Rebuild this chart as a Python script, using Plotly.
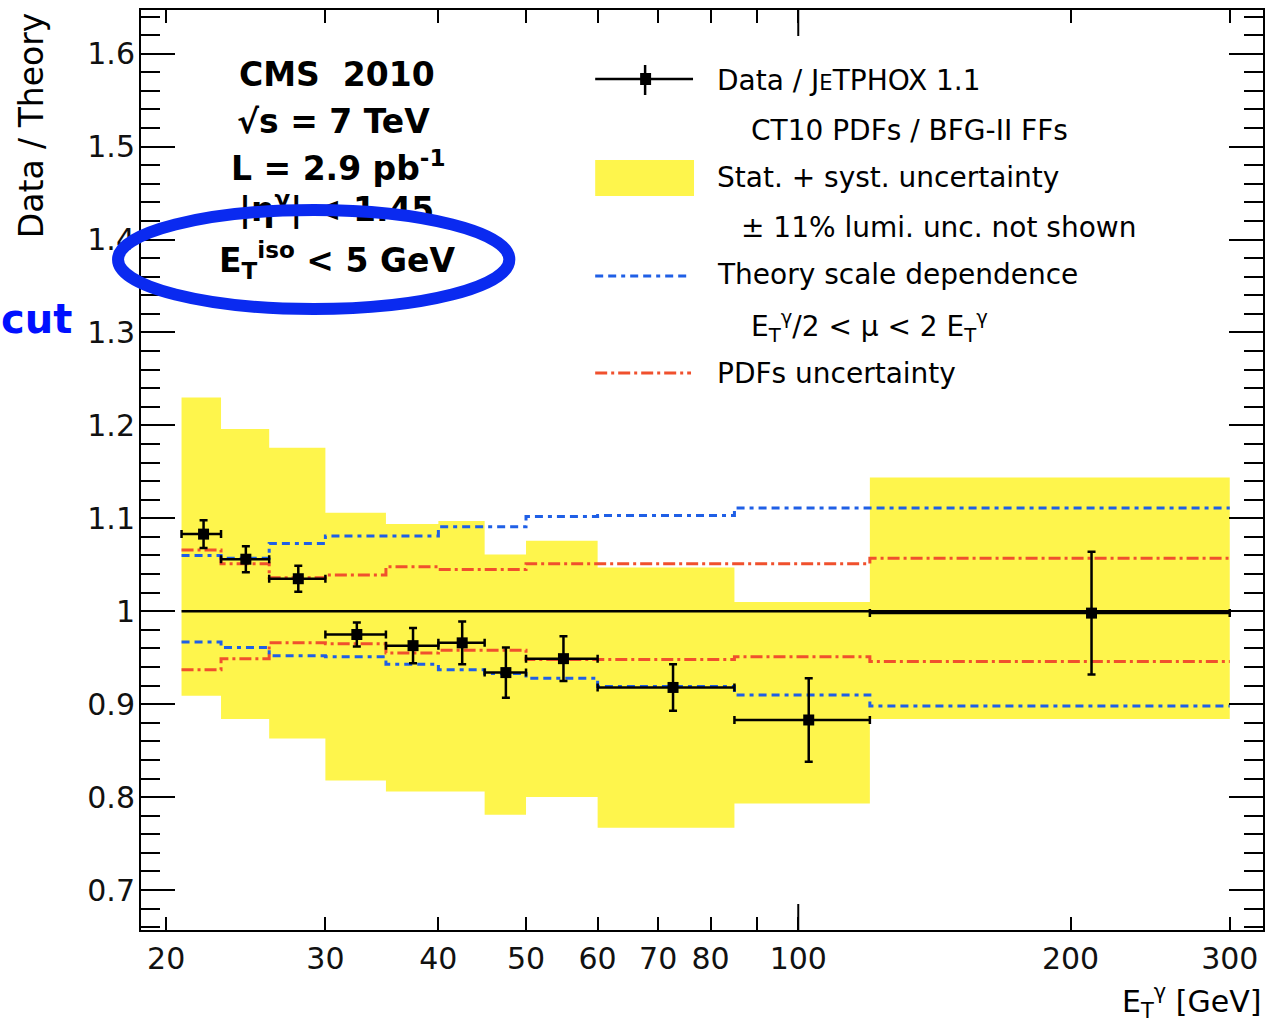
import math
import plotly.graph_objects as go

# ---------------- data ----------------
bin_edges = [20.8, 23, 26, 30, 35, 40, 45, 50, 60, 85, 120, 300]
et_points = [22.0, 24.5, 28.0, 32.5, 37.5, 42.5, 47.5, 55.0, 72.7, 102.7, 211.0]
ratio = [1.083, 1.056, 1.035, 0.975, 0.963, 0.966, 0.934, 0.949, 0.918, 0.883, 0.998]
ratio_err = [0.015, 0.014, 0.014, 0.013, 0.019, 0.023, 0.027, 0.024, 0.025, 0.045, 0.066]

band_hi = [1.230, 1.196, 1.176, 1.106, 1.094, 1.097, 1.061, 1.076, 1.047, 1.010, 1.144]
band_lo = [0.909, 0.884, 0.863, 0.818, 0.806, 0.806, 0.781, 0.800, 0.767, 0.793, 0.884]

scale_hi = [1.060, 1.057, 1.073, 1.081, 1.081, 1.091, 1.091, 1.102, 1.103, 1.111, 1.111]
scale_lo = [0.967, 0.961, 0.952, 0.951, 0.943, 0.937, 0.933, 0.928, 0.919, 0.910, 0.898]

pdf_hi = [1.066, 1.051, 1.036, 1.039, 1.048, 1.045, 1.045, 1.051, 1.051, 1.051, 1.057]
pdf_lo = [0.937, 0.949, 0.966, 0.965, 0.955, 0.958, 0.958, 0.948, 0.948, 0.951, 0.946]

x_tickvals = [20, 30, 40, 50, 60, 70, 80, 90, 100, 200, 300]
x_ticktext = ["20", "30", "40", "50", "60", "70", "80", "", "100", "200", "300"]
y_tickvals = [0.7, 0.8, 0.9, 1.0, 1.1, 1.2, 1.3, 1.4, 1.5, 1.6]
y_ticktext = ["0.7", "0.8", "0.9", "1", "1.1", "1.2", "1.3", "1.4", "1.5", "1.6"]
x_range = [18.76, 326.5]
y_range = [0.657, 1.647]
unity = 1.0
decade_tick = 100

# ---------------- styling ----------------
W, H = 1270, 1030
L, R, T, B = 141, 5, 10, 100
PW, PH = W - L - R, H - T - B
FONT = "DejaVu Sans"
YELLOW = "#fef54c"
BLUE = "#1f5fe6"
RED = "#f0502d"
ELL = "#0a2af0"


def px(x, y):
    return (x - L) / PW, (H - B - y) / PH


fig = go.Figure()

# yellow uncertainty band (step polygon)
bx, by = [], []
for i in range(len(band_hi)):
    bx += [bin_edges[i], bin_edges[i + 1]]
    by += [band_hi[i], band_hi[i]]
for i in reversed(range(len(band_lo))):
    bx += [bin_edges[i + 1], bin_edges[i]]
    by += [band_lo[i], band_lo[i]]
fig.add_trace(go.Scatter(x=bx, y=by, fill="toself", fillcolor=YELLOW,
                         line=dict(width=0), mode="lines", hoverinfo="skip",
                         showlegend=False))


def step(vals, color, dash):
    fig.add_trace(go.Scatter(x=bin_edges, y=list(vals) + [vals[-1]], mode="lines",
                             line=dict(shape="hv", color=color, width=3, dash=dash),
                             showlegend=False))


step(pdf_hi, RED, "12px,4px,3px,4px")
step(pdf_lo, RED, "12px,4px,3px,4px")
step(scale_hi, BLUE, "8px,5px,8px,5px,4px,5px")
step(scale_lo, BLUE, "8px,5px,8px,5px,4px,5px")

# unity line
fig.add_trace(go.Scatter(x=[bin_edges[0], bin_edges[-1]], y=[unity, unity], mode="lines",
                         line=dict(color="black", width=2.5), showlegend=False))

# data points
ex_plus = [bin_edges[i + 1] - et_points[i] for i in range(len(et_points))]
ex_minus = [et_points[i] - bin_edges[i] for i in range(len(et_points))]
fig.add_trace(go.Scatter(
    x=et_points, y=ratio, mode="markers",
    marker=dict(symbol="square", size=11, color="black"),
    error_y=dict(type="data", array=ratio_err, color="black", thickness=2.5, width=4),
    error_x=dict(type="data", array=ex_plus, arrayminus=ex_minus, color="black",
                 thickness=2.5, width=4),
    showlegend=False))

# eta text as a trace so that the ellipse can overlay it
ex_, ey_ = px(337, 213)
fig.add_trace(go.Scatter(x=[ex_], y=[ey_], mode="text", xaxis="x2", yaxis="y2",
                         text=["<b>|η<sup>γ</sup>| &lt; 1.45</b>"],
                         textfont=dict(family=FONT, size=33, color="black"),
                         textposition="middle center", showlegend=False, hoverinfo="skip"))

annotations = []


def ann(text, x, y, size=28, xanchor="left", bold=False, color="black", **kw):
    xp, yp = px(x, y)
    annotations.append(dict(text=text, x=xp, y=yp, xref="paper", yref="paper",
                            xanchor=xanchor, yanchor="middle", showarrow=False,
                            font=dict(family=FONT, size=size, color=color), **kw))


# left info block
ann("<b>CMS\u00a0 2010</b>", 337, 74, size=33, xanchor="center")
ann("<b>√s = 7 TeV</b>", 334, 122, size=33, xanchor="center")
ann("<b>L = 2.9 pb<sup>-1</sup></b>", 339, 167, size=33, xanchor="center")
ann("<b>E<sub>T</sub><sup>iso</sup> &lt; 5 GeV</b>", 337, 260, size=33, xanchor="center")
ann("<b>cut</b>", 74, 319, size=40, xanchor="right", color="#0010ff")

# legend texts
ann("Data / J<span style='font-size:21px'>E</span>TPHOX 1.1", 716, 80)
ann("CT10 PDFs / BFG-II FFs", 750, 130)
ann("Stat. + syst. uncertainty", 716, 178)
ann("± 11% lumi. unc. not shown", 740, 228)
ann("Theory scale dependence", 716, 275)
ann("E<sub>T</sub><sup>γ</sup>/2 &lt; μ &lt; 2 E<sub>T</sub><sup>γ</sup>", 750, 326)
ann("PDFs uncertainty", 716, 373)

# axis titles
ann("E<sub>T</sub><sup>γ</sup> [GeV]", 1265, 1001, size=30, xanchor="right")
yt_x, yt_y = px(31, 10)
annotations.append(dict(text="Data / Theory", x=yt_x, y=yt_y, xref="paper", yref="paper",
                        xanchor="center", yanchor="top", textangle=-90, showarrow=False,
                        font=dict(family=FONT, size=33, color="black")))

shapes = []


def pline(x0, y0, x1, y1, color="black", width=2.5, dash=None):
    a, b = px(x0, y0)
    c, d = px(x1, y1)
    ln = dict(color=color, width=width)
    if dash:
        ln["dash"] = dash
    shapes.append(dict(type="line", xref="paper", yref="paper", x0=a, y0=b, x1=c, y1=d,
                       line=ln, layer="above"))


# legend symbols
pline(596, 79, 694, 79)
pline(646, 65, 646, 95)
a, b = px(641, 73)
c, d = px(652, 85)
shapes.append(dict(type="rect", xref="paper", yref="paper", x0=a, y0=b, x1=c, y1=d,
                   fillcolor="black", line=dict(width=0), layer="above"))
a, b = px(596, 160)
c, d = px(695, 196)
shapes.append(dict(type="rect", xref="paper", yref="paper", x0=a, y0=b, x1=c, y1=d,
                   fillcolor=YELLOW, line=dict(width=0), layer="above"))
pline(596, 276, 690, 276, color=BLUE, width=3, dash="8px,5px,8px,5px,4px,5px")
pline(596, 373, 692, 373, color=RED, width=3, dash="12px,4px,3px,4px")

# longer decade tick (bottom & top)
tl = 26 / PH
shapes.append(dict(type="line", xref="x", yref="paper", x0=decade_tick, x1=decade_tick,
                   y0=0, y1=tl, line=dict(color="black", width=2)))
shapes.append(dict(type="line", xref="x", yref="paper", x0=decade_tick, x1=decade_tick,
                   y0=1 - tl, y1=1, line=dict(color="black", width=2)))

# highlight ellipse
a, b = px(118, 210)
c, d = px(510, 309)
shapes.append(dict(type="circle", xref="paper", yref="paper", x0=a, y0=d, x1=c, y1=b,
                   line=dict(color=ELL, width=12), layer="above"))

fig.update_layout(
    width=W, height=H,
    margin=dict(l=L, r=R, t=T, b=B, pad=0),
    paper_bgcolor="white", plot_bgcolor="white",
    font=dict(family=FONT, size=30, color="black"),
    showlegend=False,
    annotations=annotations,
    shapes=shapes,
    xaxis=dict(type="log", range=[math.log10(x_range[0]), math.log10(x_range[1])],
               tickvals=x_tickvals, ticktext=x_ticktext, ticks="inside", ticklen=13,
               tickwidth=2, tickcolor="black", showline=True, linewidth=2,
               linecolor="black", mirror="ticks", showgrid=False, zeroline=False,
               tickfont=dict(family=FONT, size=30, color="#111"), ticklabelstandoff=1),
    yaxis=dict(range=y_range, tickvals=y_tickvals, ticktext=y_ticktext, ticks="inside",
               ticklen=34, tickwidth=2, tickcolor="black", showline=True, linewidth=2,
               linecolor="black", mirror="ticks", showgrid=False, zeroline=False,
               tickfont=dict(family=FONT, size=30, color="#111"), ticklabelstandoff=-2,
               minor=dict(dtick=0.02, tick0=0, ticks="inside", ticklen=19, tickwidth=2,
                          tickcolor="black", showgrid=False)),
    xaxis2=dict(overlaying="x", range=[0, 1], visible=False, anchor="y2"),
    yaxis2=dict(overlaying="y", range=[0, 1], visible=False, anchor="x2"),
)

fig.write_html("out.html")
